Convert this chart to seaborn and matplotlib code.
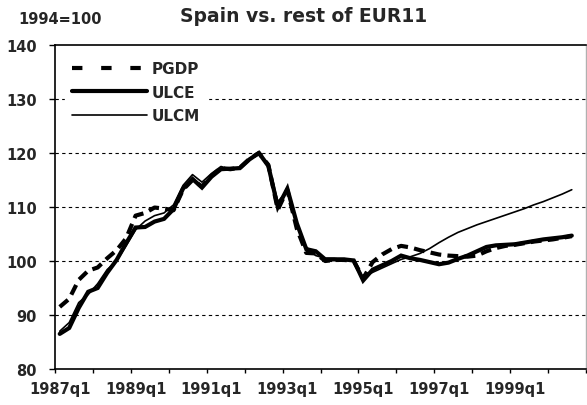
import matplotlib
matplotlib.use("Agg")
import matplotlib.pyplot as plt
from matplotlib.lines import Line2D
import seaborn as sns
import pandas as pd

# ---- data (quarterly, 1987q1 .. 2000q3), 1994=100 ----
quarters = [f"{y}q{q}" for y in range(1987, 2001) for q in range(1, 5)][:55]

PGDP = [91.5, 93.0, 96.5, 98.2, 98.8, 100.5, 102.0, 104.2, 108.4, 108.9,
        109.9, 109.7, 109.4, 113.2, 115.0, 113.8, 115.8, 117.2, 117.0, 117.3,
        118.9, 120.0, 117.8, 109.5, 113.2, 106.0, 101.5, 101.4, 100.0, 100.2,
        100.2, 100.0, 96.8, 99.8, 101.2, 102.2, 102.8, 102.5, 102.0, 101.6,
        101.2, 101.0, 100.9, 100.8, 101.0, 101.8, 102.4, 102.8, 103.0, 103.3,
        103.6, 103.8, 104.0, 104.3, 104.6]

ULCE = [86.5, 87.6, 91.3, 94.3, 95.0, 97.8, 100.2, 103.3, 106.2, 106.3,
        107.3, 107.8, 109.6, 113.4, 115.2, 113.6, 115.6, 117.0, 117.1, 117.2,
        118.8, 120.0, 117.6, 110.0, 113.4, 107.0, 102.2, 101.8, 100.3, 100.3,
        100.3, 100.1, 96.4, 98.4, 99.2, 100.0, 101.0, 100.5, 100.2, 99.8,
        99.4, 99.7, 100.4, 101.0, 101.8, 102.6, 102.9, 103.0, 103.1, 103.4,
        103.7, 104.0, 104.2, 104.4, 104.7]

ULCM = [87.0, 88.6, 92.3, 93.8, 95.8, 98.4, 100.0, 102.8, 105.8, 107.4,
        108.4, 108.9, 110.4, 114.0, 116.0, 114.6, 116.2, 117.5, 117.0, 117.4,
        119.0, 120.0, 118.0, 111.0, 113.0, 106.5, 102.6, 101.0, 100.5, 100.5,
        100.1, 100.0, 97.0, 97.9, 98.7, 99.5, 100.3, 100.8, 101.4, 102.3,
        103.4, 104.4, 105.3, 106.0, 106.7, 107.3, 107.9, 108.5, 109.1, 109.7,
        110.4, 111.0, 111.7, 112.4, 113.2]

xtick_labels = ["1987q1", "1989q1", "1991q1", "1993q1", "1995q1", "1997q1", "1999q1"]
yticks = [80, 90, 100, 110, 120, 130, 140]

df = pd.DataFrame({"t": range(len(quarters)), "quarter": quarters,
                   "PGDP": PGDP, "ULCE": ULCE, "ULCM": ULCM})

# ---- style ----
sns.set_style("white")
plt.rcParams["font.family"] = ["DejaVu Sans"]
plt.rcParams["font.weight"] = "bold"

W, H = 587, 406
fig = plt.figure(figsize=(W / 100, H / 100), dpi=100)
ax = fig.add_axes([55 / W, 1 - 370 / H, 531 / W, 324 / H])

sns.lineplot(data=df, x="t", y="ULCM", ax=ax, color="black", lw=1.2)
sns.lineplot(data=df, x="t", y="ULCE", ax=ax, color="black", lw=3.0,
             solid_joinstyle="miter")
sns.lineplot(data=df, x="t", y="PGDP", ax=ax, color="black", lw=3.0,
             linestyle=(0, (2.6, 1.5)))

ax.set_xlim(-0.5, 55.5)
ax.set_ylim(80, 140)
ax.set_xlabel("")
ax.set_ylabel("")

# y axis
ax.set_yticks(yticks)
ax.set_yticklabels([str(v) for v in yticks])
ax.tick_params(axis="y", direction="out", length=4, width=1, pad=9,
               labelsize=10.5, left=True, color="black")
for v in yticks[1:-1]:
    ax.axhline(v, color="black", lw=0.8, ls=(0, (3, 3)), zorder=0)

# x axis: labels at category centers, tick marks at year boundaries
label_pos = [quarters.index(l) for l in xtick_labels]
ax.set_xticks(label_pos)
ax.set_xticklabels(xtick_labels)
ax.set_xticks([-0.5 + 4 * k for k in range(15)], minor=True)
ax.tick_params(axis="x", which="major", length=0, pad=9, labelsize=10.5)
ax.tick_params(axis="x", which="minor", direction="out", length=3, width=1,
               bottom=True, color="black")
for lab in ax.get_xticklabels() + ax.get_yticklabels():
    lab.set_fontweight("bold")

for s in ["left", "bottom", "top"]:
    ax.spines[s].set_color("black")
    ax.spines[s].set_linewidth(1.2)
ax.spines["right"].set_color("#b0b0b0")
ax.spines["right"].set_linestyle((0, (1, 1)))
ax.spines["right"].set_linewidth(1)

# legend
handles = [
    Line2D([], [], color="black", lw=3.0, linestyle=(0, (2.5, 4.5))),
    Line2D([], [], color="black", lw=3.0),
    Line2D([], [], color="black", lw=1.2),
]
leg = ax.legend(handles, ["PGDP", "ULCE", "ULCM"], loc="upper left",
                bbox_to_anchor=(0.018, 0.973), frameon=True, fancybox=False,
                facecolor="white", edgecolor="white", framealpha=1,
                handlelength=4.9, handletextpad=0.3, labelspacing=0.55,
                borderpad=0.5, borderaxespad=0,
                prop={"size": 11, "weight": "bold"})

fig.text(304 / W, 1 - 16 / H, "Spain vs. rest of EUR11", ha="center",
         va="center", fontsize=13.5, fontweight="bold")
fig.text(18 / W, 1 - 19.5 / H, "1994=100", ha="left", va="center",
         fontsize=10.5, fontweight="bold")

fig.savefig("out.png", dpi=100)
